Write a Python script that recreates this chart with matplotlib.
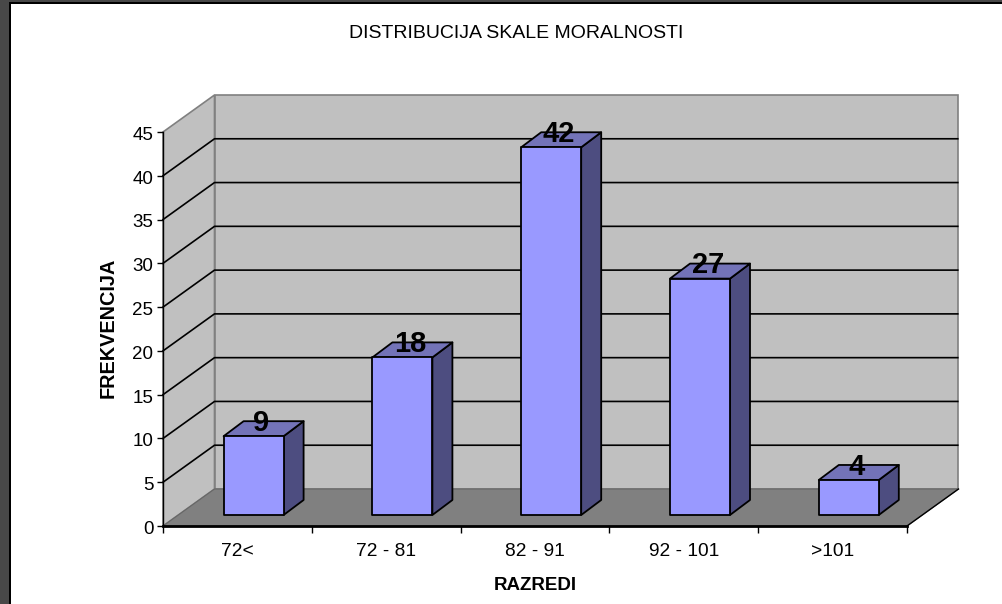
import matplotlib
matplotlib.use("Agg")
import matplotlib.pyplot as plt
from matplotlib.patches import Rectangle
from matplotlib.transforms import ScaledTranslation

W, H = 1002, 604
categories = ["72<", "72 - 81", "82 - 91", "92 - 101", ">101"]
values = [9, 18, 42, 27, 4]
y_ticks = [0, 5, 10, 15, 20, 25, 30, 35, 40, 45]

plt.rcParams['font.family'] = ['Liberation Sans', 'DejaVu Sans']
fig = plt.figure(figsize=(W / 100, H / 100), dpi=100, facecolor='white')

# window frame
fig.add_artist(Rectangle((0, 0), 9 / W, 1, transform=fig.transFigure, fc='#484848', ec='none'))
fig.add_artist(Rectangle((0, 1 - 2 / H), 1, 2 / H, transform=fig.transFigure, fc='#484848', ec='none'))
fig.add_artist(Rectangle((9 / W, 0), 2 / W, 1 - 2 / H, transform=fig.transFigure, fc='black', ec='none'))
fig.add_artist(Rectangle((9 / W, 1 - 4 / H), 1 - 9 / W, 2 / H, transform=fig.transFigure, fc='black', ec='none'))

# plot box: front plane of the 3D chart
L, R, T, B = 163, 907, 132, 526
ax = fig.add_axes([L / W, 1 - B / H, (R - L) / W, (B - T) / H])
ax.set_xlim(0, len(categories))
ax.set_ylim(0, 45)
ax.patch.set_visible(False)

px_x = (R - L) / len(categories)
px_y = (B - T) / 45
dx = 51.5 / px_x    # depth offset of the walls
dy = 37 / px_y
sx = 16.2 / px_x    # offset of the bar front from the chart front
sy = 11 / px_y
bw = 60 / px_x      # bar width
bdx = 20 / px_x     # bar depth
bdy = 15 / px_y
ymax = y_ticks[-1]
xmax = len(categories)

# walls and floor
ax.fill([0, dx, dx, 0], [0, dy, ymax + dy, ymax], fc='#C0C0C0', ec='#808080', lw=1.2, clip_on=False, zorder=1)
ax.fill([dx, xmax + dx, xmax + dx, dx], [dy, dy, ymax + dy, ymax + dy], fc='#C0C0C0', ec='#808080', lw=1.2, clip_on=False, zorder=1)
ax.fill([0, xmax, xmax + dx, dx], [0, 0, dy, dy], fc='#808080', ec='#666666', lw=0.8, clip_on=False, zorder=2)
ax.plot([xmax, xmax + dx], [0, dy], color='black', lw=1, clip_on=False, zorder=2.5)

# gridlines
for v in y_ticks[1:-1]:
    ax.plot([0, dx, xmax + dx - 0.005], [v, v + dy, v + dy], color='black', lw=1.2, clip_on=False, zorder=2)

# bars
edge = dict(ec='black', lw=1.3, clip_on=False, joinstyle='round')
for i, v in enumerate(values):
    x0 = i + 0.5 + sx - bw / 2
    x1 = x0 + bw
    y0 = sy
    y1 = sy + v
    z = 3 + i * 0.01
    ax.fill([x1, x1 + bdx, x1 + bdx, x1], [y0, y0 + bdy, y1 + bdy, y1], fc='#4D4D80', zorder=z, **edge)
    ax.fill([x0, x1, x1 + bdx, x0 + bdx], [y1, y1, y1 + bdy, y1 + bdy], fc='#7373B8', zorder=z, **edge)
    ax.fill([x0, x1, x1, x0], [y0, y0, y1, y1], fc='#9999FF', zorder=z, **edge)
    ax.annotate(str(v), xy=(x0 + bw / 2 + bdx / 2, y1 + bdy / 2), xytext=(-1.5, 4.2),
                textcoords='offset points', ha='center', va='center', fontsize=21,
                fontweight='bold', color='black', zorder=5, annotation_clip=False)

# axes furniture
for s in ['top', 'right']:
    ax.spines[s].set_visible(False)
ax.spines['left'].set_linewidth(1.0)
ax.spines['left'].set_zorder(4)
ax.spines['bottom'].set_linewidth(2.0)
ax.spines['bottom'].set_zorder(4)
ax.set_yticks(y_ticks)
ax.set_xticks(range(len(categories) + 1))
ax.set_xticklabels([])
ax.set_xticks([i + 0.5 for i in range(len(categories))], minor=True)
ax.set_xticklabels(categories, minor=True)
ax.tick_params(axis='y', length=4, width=1, pad=3, labelsize=13.5)
ax.tick_params(axis='x', which='major', length=5, width=1)
ax.tick_params(axis='x', which='minor', length=0, pad=12.2, labelsize=13.8)
for lab in ax.get_yticklabels():
    lab.set_transform(lab.get_transform() + ScaledTranslation(0, -1 / 72, fig.dpi_scale_trans))

fig.text(516 / W, 1 - 33.5 / H, "DISTRIBUCIJA SKALE MORALNOSTI", ha='center', va='center', fontsize=14)
fig.text(535 / W, 1 - 585.5 / H, "RAZREDI", ha='center', va='center', fontsize=13.5, fontweight='bold')
fig.text(108 / W, 1 - 327.5 / H, "FREKVENCIJA", ha='center', va='center', rotation=90, fontsize=14.3, fontweight='bold')

fig.savefig("out.png", dpi=100)
